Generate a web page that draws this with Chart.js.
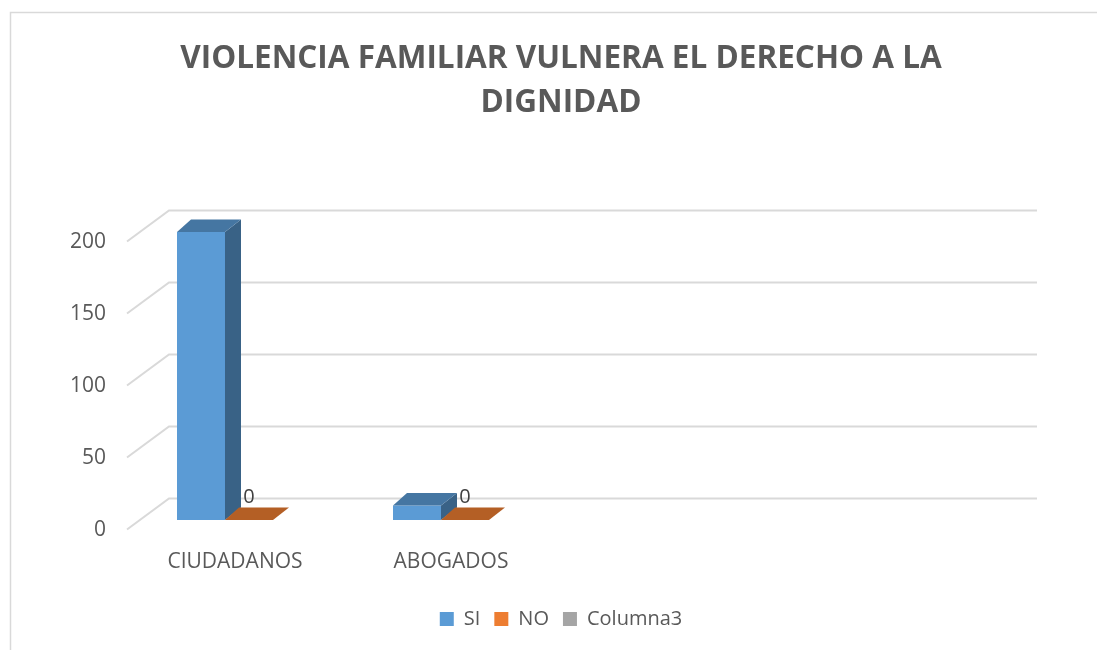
<!DOCTYPE html>
<html>
<head>
<meta charset="utf-8">
<script src="https://cdn.jsdelivr.net/npm/chart.js@4.4.1/dist/chart.umd.min.js"></script>
<style>
  html, body { margin: 0; padding: 0; background: #fff; overflow: hidden; }
  #wrap { width: 1097px; height: 650px; position: relative; }
</style>
</head>
<body>
<div id="wrap"><canvas id="chart"></canvas></div>
<script>
// datos
const categorias = ['CIUDADANOS', 'ABOGADOS', '', ''];
const valoresSI = [200, 10, null, null];
const valoresNO = [0, 0, null, null];
const valoresCol3 = [null, null, null, null];
const ticksY = [0, 50, 100, 150, 200];

const fuente = "'Open Sans', 'Noto Sans', sans-serif";
const gris = '#595959';

function oscurecer(hex, f) {
    const n = parseInt(hex.slice(1), 16);
    const r = Math.round(((n >> 16) & 255) * f);
    const g = Math.round(((n >> 8) & 255) * f);
    const b = Math.round((n & 255) * f);
    return `rgb(${r},${g},${b})`;
}

// ancho de la etiqueta mas ancha del eje Y (para alinearlas a la derecha con mirror)
const medidor = document.createElement('canvas').getContext('2d');
medidor.font = `21px ${fuente}`;
const anchoTick = Math.max(...ticksY.map(t => medidor.measureText(String(t)).width));

// fondo y marco gris del grafico
const marco = {
    id: 'marco',
    beforeDraw(chart) {
        const ctx = chart.ctx;
        ctx.save();
        ctx.fillStyle = '#fff';
        ctx.fillRect(0, 0, chart.width, chart.height);
        ctx.strokeStyle = '#d9d9d9';
        ctx.lineWidth = 1.5;
        ctx.strokeRect(10.5, 12.5, 1200, 700);
        ctx.restore();
    }
};

// pared del fondo (lineas de division) con efecto 3D
const pared = {
    id: 'pared',
    beforeDatasetsDraw(chart) {
        const ctx = chart.ctx;
        const y = chart.scales.y;
        const area = chart.chartArea;
        ctx.save();
        ctx.strokeStyle = '#d9d9d9';
        ctx.lineWidth = 2;
        ticksY.forEach(v => {
            const yb = y.getPixelForValue(v) - 21.5;
            const xb = area.left + 28;
            ctx.beginPath();
            ctx.moveTo(area.left - 14, yb + 31);
            ctx.lineTo(xb, yb);
            ctx.lineTo(area.right + 32, yb);
            ctx.stroke();
        });
        ctx.restore();
    }
};

// caras laterales y superiores de las columnas
const columnas3d = {
    id: 'columnas3d',
    afterDatasetsDraw(chart) {
        const ctx = chart.ctx;
        ctx.save();
        chart.data.datasets.forEach((ds, i) => {
            const meta = chart.getDatasetMeta(i);
            meta.data.forEach((bar, j) => {
                if (ds.data[j] === null || ds.data[j] === undefined) return;
                const w = bar.width;
                const izq = bar.x - w / 2;
                const der = bar.x + w / 2;
                const top = bar.y;
                const base = bar.base;
                const dxL = 14, dxR = 16, dy = 12.5;
                if (base - top > 0.5) {
                    ctx.fillStyle = oscurecer(ds.backgroundColor, 0.63);
                    ctx.beginPath();
                    ctx.moveTo(der, top);
                    ctx.lineTo(der + dxR, top - dy);
                    ctx.lineTo(der + dxR, base - dy);
                    ctx.lineTo(der, base);
                    ctx.closePath();
                    ctx.fill();
                }
                ctx.fillStyle = oscurecer(ds.backgroundColor, 0.76);
                ctx.beginPath();
                ctx.moveTo(izq, top);
                ctx.lineTo(der, top);
                ctx.lineTo(der + dxR, top - dy);
                ctx.lineTo(izq + dxL, top - dy);
                ctx.closePath();
                ctx.fill();
            });
        });
        // etiquetas de datos de la serie NO
        const metaNO = chart.getDatasetMeta(1);
        ctx.fillStyle = '#404040';
        ctx.font = `20px ${fuente}`;
        ctx.textAlign = 'center';
        ctx.textBaseline = 'alphabetic';
        metaNO.data.forEach((bar, j) => {
            if (valoresNO[j] === null) return;
            ctx.fillText(String(valoresNO[j]), bar.x, bar.y - 17);
        });
        ctx.restore();
    }
};

const ctx = document.querySelector('#chart').getContext('2d');

const chart = new Chart(ctx, {
    type: 'bar',
    data: {
        labels: categorias,
        datasets: [
            { label: 'SI', data: valoresSI, backgroundColor: '#5B9BD5', borderWidth: 0 },
            { label: 'NO', data: valoresNO, backgroundColor: '#ED7D31', borderWidth: 0 },
            { label: 'Columna3', data: valoresCol3, backgroundColor: '#A5A5A5', borderWidth: 0 }
        ]
    },
    options: {
        responsive: true,
        maintainAspectRatio: false,
        animation: false,
        categoryPercentage: 0.6667,
        barPercentage: 1,
        layout: { padding: { left: 117, right: 92, top: 0, bottom: 11 } },
        scales: {
            x: {
                grid: { display: false, drawTicks: false },
                border: { display: false },
                ticks: {
                    color: gris,
                    font: { family: fuente, size: 21 },
                    padding: 29,
                    labelOffset: -14,
                    maxRotation: 0
                },
                afterFit(scale) { scale.height = 75; }
            },
            y: {
                min: 0,
                max: 200,
                grid: { display: false, drawTicks: false },
                border: { display: false },
                ticks: {
                    stepSize: 50,
                    color: gris,
                    font: { family: fuente, size: 21 },
                    mirror: true,
                    crossAlign: 'far',
                    padding: -35 - anchoTick,
                    labelOffset: 10
                },
                afterFit(scale) { scale.width = 24; }
            }
        },
        plugins: {
            title: {
                display: true,
                text: ['VIOLENCIA FAMILIAR VULNERA EL DERECHO A LA', 'DIGNIDAD'],
                color: gris,
                font: { family: fuente, size: 31.5, weight: 'bold', lineHeight: 1.397 },
                padding: { top: 37, bottom: 107 }
            },
            legend: {
                position: 'bottom',
                labels: {
                    color: gris,
                    font: { family: fuente, size: 20 },
                    boxWidth: 14,
                    boxHeight: 14,
                    padding: 14
                }
            },
            tooltip: { enabled: false }
        }
    },
    plugins: [marco, pared, columnas3d]
});
</script>
</body>
</html>
